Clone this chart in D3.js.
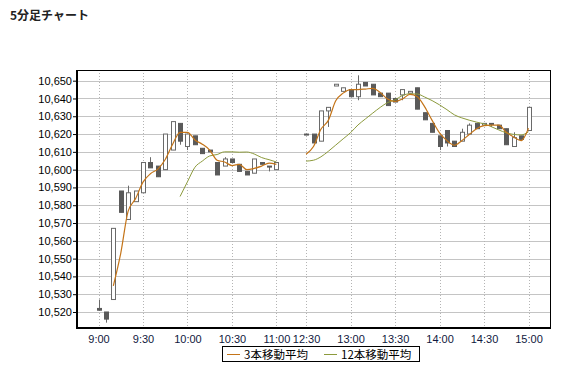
<!DOCTYPE html>
<html>
<head>
<meta charset="utf-8">
<script src="https://cdn.jsdelivr.net/npm/d3@7"></script>
<style>
  body { margin: 0; background: #fff; }
  svg text { font-family: "Liberation Sans", Arial, sans-serif; }
</style>
</head>
<body>
<div class="chart"></div>
<script>
// 5-minute candles, slot index (lunch break leaves slots 25-27 empty)
var slots = [0,1,2,3,4,5,6,7,8,9,10,11,12,13,14,15,16,17,18,19,20,21,22,23,24,
  28,29,30,31,32,33,34,35,36,37,38,39,40,41,42,43,44,45,46,47,48,49,50,51,52,53,54,55,56,57,58];
var openV = [10522,10520,10527,10588,10572,10582,10587,10604,10602,10600,10611,10626,10613,10619,10612,10611,10604,10602,10606,10603,10599,10598,10604,10602,10600,
  10620,10620,10616,10633,10647,10644,10645,10641,10649,10648,10643,10643,10640,10642,10643,10646,10632,10626,10619,10622,10616,10616,10620,10626,10625,10626,10625,10623,10613,10619,10622];
var highV = [10527,10520,10567,10588,10591,10588,10604,10607,10602,10620,10627,10626,10620,10619,10612,10611,10604,10607,10606,10603,10599,10606,10604,10602,10604,
  10620,10620,10633,10635,10648,10646,10645,10653,10649,10648,10643,10643,10640,10645,10644,10646,10632,10626,10619,10622,10616,10623,10626,10626,10626,10626,10625,10623,10621,10619,10635];
var lowV = [10521,10514,10527,10576,10572,10582,10587,10601,10596,10600,10611,10614,10611,10614,10609,10610,10597,10602,10604,10599,10597,10598,10603,10599,10600,
  10620,10615,10616,10624,10647,10644,10641,10639,10647,10642,10641,10636,10638,10639,10643,10634,10628,10621,10611,10613,10613,10616,10620,10623,10625,10624,10623,10614,10613,10617,10622];
var closeV = [10521,10516,10567,10576,10587,10588,10604,10601,10596,10620,10627,10616,10620,10614,10609,10610,10597,10606,10604,10599,10597,10606,10603,10602,10604,
  10620,10615,10633,10635,10648,10646,10641,10648,10647,10642,10641,10636,10638,10645,10644,10634,10628,10621,10613,10615,10613,10621,10625,10623,10626,10626,10623,10614,10618,10617,10635];

// moving averages as drawn (null = not drawn)
var ma3 = [null,null,10534.7,10553,10576.7,10583.7,10593,10597.7,10600.3,10605.7,10614.3,10621,10621,10616.7,10614.3,10611,10605.3,10604.3,10602.3,10603,10600,10600.7,10602,10603.7,10603,
  10608.7,10613,10622.7,10627.7,10638.7,10643,10645,10645,10645.3,10645.7,10643.3,10639.7,10638.3,10639.7,10642.3,10641,10635.3,10627.7,10620.7,10616.3,10613.7,10616.3,10619.7,10623,10624.7,10625,10625,10621,10618.3,10616.3,10623.3];
var ma12 = [null,null,null,null,null,null,null,null,null,null,null,10584.9,10593.2,10601.3,10604.8,10607.7,10608.5,10610,10610,10609.8,10609.9,10608.8,10606.8,10605.6,10604.3,
  10604.8,10605.3,10607.2,10610.3,10613.8,10617.3,10620.8,10625.1,10628.5,10631.8,10635,10637.7,10639.2,10641.7,10642.6,10642.5,10640.8,10638.8,10636.4,10633.7,10630.8,10629.1,10627.8,10626.7,10625.7,10624.1,10622.3,10620.7,10619.8,10619.5,10621.3];

var tickSlots = [0,6,12,18,24,28,34,40,46,52,58];
var tickLabels = ["9:00","9:30","10:00","10:30","11:00","12:30","13:00","13:30","14:00","14:30","15:00"];
var yTicks = [10520,10530,10540,10550,10560,10570,10580,10590,10600,10610,10620,10630,10640,10650];

var svgWidth = 562, svgHeight = 367;
var plot = {left: 77, right: 550, top: 70, bottom: 328};

var svg = d3.select(".chart").append("svg")
  .attr("width", svgWidth)
  .attr("height", svgHeight);

svg.append("text")
  .attr("x", 10).attr("y", 20)
  .style("font-family", "'Noto Sans CJK JP', sans-serif")
  .attr("font-size", "12px").attr("font-weight", "bold")
  .attr("fill", "#222")
  .text("5分足チャート");

var x = d3.scaleLinear().domain([-2.9, 60.9]).range([plot.left, plot.right]);
var y = d3.scaleLinear().domain([10511, 10656]).range([plot.bottom, plot.top]);

// grid
svg.append("g").selectAll("line").data(yTicks).enter().append("line")
  .attr("x1", plot.left).attr("x2", plot.right)
  .attr("y1", d => Math.round(y(d)) + 0.5).attr("y2", d => Math.round(y(d)) + 0.5)
  .attr("stroke", "#c4c4c4");
svg.append("g").selectAll("line").data(tickSlots).enter().append("line")
  .attr("x1", d => Math.round(x(d)) + 0.5).attr("x2", d => Math.round(x(d)) + 0.5)
  .attr("y1", plot.top).attr("y2", plot.bottom)
  .attr("stroke", "#b4b4b4").attr("stroke-dasharray", "1,2");

// frame
svg.append("rect")
  .attr("x", plot.left + 0.5).attr("y", plot.top + 0.5)
  .attr("width", plot.right - plot.left).attr("height", plot.bottom - plot.top)
  .attr("fill", "none").attr("stroke", "#000");

// candles
var candles = slots.map((s, i) => ({slot: s, o: openV[i], h: highV[i], l: lowV[i], c: closeV[i]}));
var cg = svg.append("g");
cg.selectAll("line").data(candles).enter().append("line")
  .attr("x1", d => Math.round(x(d.slot)) + 0.5).attr("x2", d => Math.round(x(d.slot)) + 0.5)
  .attr("y1", d => y(d.h)).attr("y2", d => y(d.l))
  .attr("stroke", "#6a6a6a");
cg.selectAll("rect").data(candles).enter().append("rect")
  .attr("x", d => Math.round(x(d.slot)) - 1.5)
  .attr("width", 4)
  .attr("y", d => y(Math.max(d.o, d.c)))
  .attr("height", d => Math.max(1, y(Math.min(d.o, d.c)) - y(Math.max(d.o, d.c))))
  .attr("fill", d => d.c > d.o ? "#fff" : "#5a5a5a")
  .attr("stroke", d => d.c > d.o ? "#6a6a6a" : "#5a5a5a");

// moving average lines, broken over the lunch gap
var line = d3.line()
  .defined(d => d.v != null)
  .x(d => x(d.slot)).y(d => y(d.v))
  .curve(d3.curveMonotoneX);
function maSeries(arr) {
  var out = [];
  slots.forEach((s, i) => {
    if (s === 28) out.push({slot: 26, v: null});
    out.push({slot: s, v: arr[i]});
  });
  return out;
}
svg.append("path").datum(maSeries(ma12)).attr("d", line)
  .attr("fill", "none").attr("stroke", "#8c9a3c").attr("stroke-width", 1);
svg.append("path").datum(maSeries(ma3)).attr("d", line)
  .attr("fill", "none").attr("stroke", "#c47418").attr("stroke-width", 1.2);

// axes
var leftAxis = d3.axisLeft(y).tickValues(yTicks).tickFormat(d3.format(",")).tickSize(4).tickPadding(1);
var ga = svg.append("g").attr("transform", `translate(${plot.left},0)`).call(leftAxis);
ga.select(".domain").remove();
ga.selectAll("text").attr("font-size", "11px").attr("fill", "#000").style("font-family", "'Liberation Sans', Arial, sans-serif");
ga.selectAll("line").attr("stroke", "#000");

var bottomAxis = d3.axisBottom(x).tickValues(tickSlots).tickFormat((d, i) => tickLabels[i]).tickSize(0).tickPadding(7);
var gb = svg.append("g").attr("transform", `translate(0,${plot.bottom})`).call(bottomAxis);
gb.select(".domain").remove();
gb.selectAll("text").attr("font-size", "11px").attr("fill", "#101840").style("font-family", "'Liberation Sans', Arial, sans-serif");

svg.append("line").attr("x1", plot.left).attr("x2", plot.left).attr("y1", plot.top).attr("y2", plot.bottom + 1)
  .attr("stroke", "#000").attr("stroke-width", 2);
svg.append("line").attr("x1", plot.left).attr("x2", plot.right + 1).attr("y1", plot.bottom).attr("y2", plot.bottom)
  .attr("stroke", "#000").attr("stroke-width", 2);

// legend
var lg = svg.append("g");
lg.append("rect").attr("x", 222.5).attr("y", 346.5).attr("width", 197).attr("height", 15)
  .attr("fill", "#fff").attr("stroke", "#000");
var legendItems = [{name: "3本移動平均", color: "#c47418", x: 227}, {name: "12本移動平均", color: "#8c9a3c", x: 324}];
legendItems.forEach(function(d) {
  lg.append("line").attr("x1", d.x).attr("x2", d.x + 13).attr("y1", 354.5).attr("y2", 354.5)
    .attr("stroke", d.color);
  lg.append("text").attr("x", d.x + 17).attr("y", 358.5)
    .style("font-family", "'Noto Sans CJK JP', sans-serif")
    .attr("font-size", "11.5px").attr("fill", "#000").text(d.name);
});
</script>
</body>
</html>
